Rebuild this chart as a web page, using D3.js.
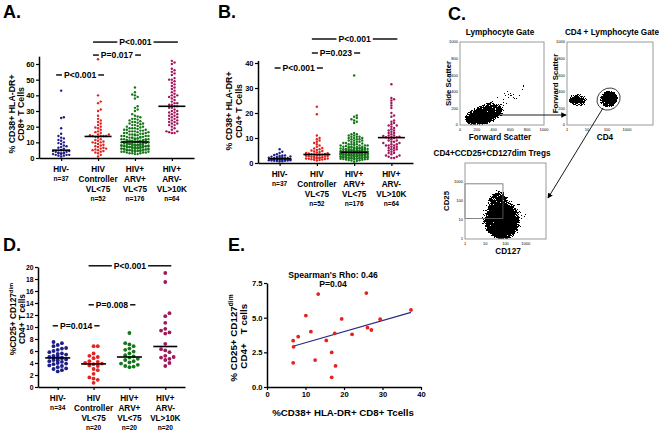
<!DOCTYPE html>
<html><head><meta charset="utf-8">
<script src="https://cdn.jsdelivr.net/npm/d3@7/dist/d3.min.js"></script>
<style>
body{margin:0;background:#fff}
svg text{font-family:"Liberation Sans",Arial,Helvetica,sans-serif;font-weight:bold;fill:#000}
</style></head><body>
<svg id="chart" width="662" height="431" xmlns="http://www.w3.org/2000/svg"></svg>
<script>
// ================= DATA =================
const groupLines = [["HIV-"],["HIV","Controller","VL<75"],["HIV+","ARV+","VL<75"],["HIV+","ARV-","VL>10K"]];
const nLabelsAB = ["n=37","n=52","n=176","n=64"];
const nLabelsD = ["n=34","n=20","n=20","n=20"];
const groupColors = ["#1e1e88","#e2231f","#16761a","#a0175c"];

// Panel A: % CD38+ HLA-DR+ CD8+ T cells
const cd8_hivNeg = [43,26,25.5,19,15.5,14,13,12.5,11.5,11,10,9.5,9,8,7.5,7,6.5,6,5,5,4.5,4.5,4,4,3.5,3.5,3,3,3,2.5,2.5,2,2,2,1.5,1.5,1];
const cd8_controller = [63,40,36,35,31,30,27,25,24,23,22,21,20,19.5,19,18,17,16.5,16,15,15,14.5,14,14,14,14,13.5,13,12,11.5,11,10.5,10,10,9.5,9,8.5,8,7.5,7,6.5,6,6,5.5,5,5,4.5,4,3.5,3,2,1];
const cd8_arvPos = [45,42,40.5,40,39,38,33,32,31,30,27,26,25,25,24,23,23,22,22,21,21,20,20,19.5,19,19,18.5,18,18,17.5,
  17.5,17,17,16.5,16.5,16,16,16,15.5,15.5,15,15,15,14.5,14.5,14,14,14,13.5,13.5,13.5,13,13,13,12.5,12.5,12.5,12,12,12,
  12,11.5,11.5,11.5,11,11,11,11,10.5,10.5,10.5,10.5,10,10,10,10,10,9.5,9.5,9.5,9.5,9.5,9,9,9,9,9,9,8.5,8.5,
  8.5,8.5,8.5,8.5,8,8,8,8,8,8,7.5,7.5,7.5,7.5,7.5,7.5,7,7,7,7,7,7,6.5,6.5,6.5,6.5,6.5,6.5,6,6,
  6,6,6,6,5.5,5.5,5.5,5.5,5.5,5,5,5,5,5,4.5,4.5,4.5,4.5,4,4,28,26.5,24.5,23.5,22.5,21.5,20.5,19,18,17,
  14,13,12,11.5,11,10.5,4,4,3.5,3.5,3.5,3,3,3,2.5,2.5,4.5,5,5.5,6,6.5,7,7.5,8,8.5,9];
const cd8_arvNeg = [62,61,60,57,56,55,54,53,51,50,50,49,48,47,46,45,44,43,42,41,40,40,39,39,38,37,36,35,35,34,
  34,33,33,32,32,31,30,30,29,29,28,28,27,27,26,26,25,25,24,24,23,23,22,22,21,21,20,19,18,17,17,16,16,16.5];

// Panel B: % CD38+ HLA-DR+ CD4+ T cells
const cd4_hivNeg = [5.5,4.5,4,3.5,3.2,3,3,2.8,2.6,2.5,2.4,2.3,2.2,2.1,2,2,1.9,1.8,1.7,1.6,1.5,1.5,1.4,1.4,1.3,1.3,1.2,1.2,1.1,1.1,1,1,0.9,0.9,0.8,0.7,0.6];
const cd4_controller = [22.5,19.5,11,10,9.5,9,8.5,8,7.5,7,6.5,6,5.8,5.5,5.2,5,4.8,4.6,4.4,4.2,4,3.9,3.8,3.6,3.5,3.4,3.4,3.3,3.2,3.1,
  3,2.9,2.8,2.7,2.6,2.5,2.4,2.3,2.2,2.1,2,2,1.9,1.8,1.8,1.7,1.6,1.5,1.4,1.3,1.2,1];
const cd4_arvPos = [35,19,18.5,18,17.5,17,16.5,16,12,11.5,11.5,11,11,10.5,10.5,10.5,10,10,10,9.5,9.5,9.5,9,9,9,8.5,8.5,8.5,8,8,
  8,7.5,7.5,7.5,7,7,7,7,6.5,6.5,6.5,6.5,6.2,6.2,6,6,6,6,5.8,5.8,5.6,5.6,5.5,5.5,5.4,5.4,5.2,5.2,5.2,5,
  5,5,5,4.8,4.8,4.8,4.7,4.7,4.6,4.6,4.5,4.5,4.5,4.4,4.4,4.4,4.3,4.3,4.3,4.2,4.2,4.2,4.2,4.1,4.1,4.1,4,4,4,4,
  3.9,3.9,3.9,3.8,3.8,3.8,3.7,3.7,3.7,3.6,3.6,3.6,3.5,3.5,3.5,3.4,3.4,3.4,3.3,3.3,3.3,3.2,3.2,3.2,3.1,3.1,3,3,3,2.9,
  2.9,2.8,2.8,2.8,2.7,2.7,2.6,2.6,2.6,2.5,2.5,2.4,2.4,2.4,2.3,2.3,2.2,2.2,2.1,2.1,2,2,2,1.9,1.9,1.8,1.8,1.7,1.7,1.6,
  1.6,1.5,1.5,1.4,1.3,1.2,1.1,1,0.8,0.5,7.8,7.2,6.8,6.4,5.9,5.7,5.3,5.1,4.9,4.6,4.4,4.2,3.9,3.6,3.3,3];
const cd4_arvNeg = [31.5,26,25.5,25,24,23,22,20,19,18.5,17,16.5,16,15.5,15,15,14.5,14,13.5,13,13,12.5,12,12,11.5,11,11,10.8,10.5,10.5,
  10.3,10.3,10,10,9.5,9,9,8.5,8.5,8,8,7.5,7.5,7,7,7,6.5,6.5,6,6,5.5,5.5,5,5,4.5,4,4,3.5,3,3,2.5,2.5,2,2];

// Panel D: %CD25+ CD127dim CD4+ T cells
const treg_hivNeg = [7.5,7.3,7.0,6.8,6.5,6.4,6.2,6.0,5.8,5.6,5.5,5.4,5.2,5.1,5.0,4.9,4.9,4.8,4.7,4.6,4.5,4.4,4.3,4.2,4.0,3.9,3.8,3.6,3.5,3.3,3.1,3.0,2.8,2.6];
const treg_controller = [6.8,6.8,5.6,5.2,5.0,4.8,4.3,4.2,4.0,3.9,3.8,3.6,3.5,3.0,2.8,2.2,1.6,1.4,1.2,0.7];
const treg_arvPos = [9.0,7.3,7.1,6.8,6.4,6.2,5.9,5.6,5.3,5.1,4.9,4.7,4.5,4.3,4.1,3.9,3.7,3.5,3.4,3.3];
const treg_arvNeg = [19.0,17.5,12.3,11.8,10.7,9.7,9.4,9.1,8.9,7.2,6.3,6.1,5.8,5.2,5.0,4.9,4.7,4.5,4.0,3.5];

// Panel E: correlation
const corrCD8 = [13.3,25.8,10.1,19.4,11.4,8.1,6.8,6.9,6.8,12.5,15.4,17.6,22.1,26.1,27.1,29.4,37.4,16.8,17.8,16.8];
const corrTreg = [6.70,6.77,5.15,4.91,3.99,3.63,3.34,2.90,1.74,1.94,3.36,3.87,3.80,4.28,4.11,4.89,5.56,2.49,1.52,0.70];

// Significance annotations (group index from/to, value level, label)
const sigA = [{from:1,to:3,at:74,label:"P<0.001"},{from:1,to:2,at:65.7,label:"P=0.017"},{from:0,to:1,at:53,label:"P<0.001"}];
const sigB = [{from:1,to:3,at:49.6,label:"P<0.001"},{from:1,to:2,at:44,label:"P=0.023"},{from:0,to:1,at:38,label:"P<0.001"}];
const sigD = [{from:1,to:3,at:20.2,label:"P<0.001"},{from:1,to:2,at:13.7,label:"P=0.008"},{from:0,to:1,at:10.2,label:"P=0.014"}];

// Axis ticks
const ticksA = [0,10,20,30,40,50,60];
const ticksB = [0,10,20,30,40];
const ticksD = [0,2,4,6,8,10,12,14,16,18,20];
const ticksEx = [0,10,20,30,40];
const ticksEy = [0,2.5,5,7.5];
const flowLinTicks = [0,200,400,600,800,1000];
const flowLogTicks = [1,10,100,1000];

// Flow cytometry populations (data units: x range, y range, tilt deg, density level)
const lymphPops = [
  {x:[150,900],y:[170,420],tilt:-33,level:"haze"},
  {x:[40,520],y:[0,240],tilt:-12,level:"mid"},
  {x:[80,400],y:[25,160],tilt:-10,level:"core"}];
const cd4Pops = [
  {x:[1.02,12],y:[215,385],tilt:0,level:"mid"},
  {x:[1.5,7],y:[250,350],tilt:0,level:"mid"},
  {x:[40,380],y:[205,415],tilt:-30,level:"mid"},
  {x:[55,280],y:[240,390],tilt:-30,level:"core"}];
const tregPops = [
  {x:[4,1500],y:[1,300],tilt:0,level:"haze"},
  {x:[11,400],y:[1.0,75],tilt:0,level:"dense"},
  {x:[16,110],y:[12,400],tilt:0,level:"mid"},
  {x:[18,300],y:[1.05,45],tilt:0,level:"core"}];

// ================= DRAW =================
const svg = d3.select("#chart");
const defs = svg.append("defs");
defs.append("marker").attr("id","arrow").attr("viewBox","0 0 8 8").attr("refX",7).attr("refY",4)
  .attr("markerWidth",6).attr("markerHeight",6).attr("orient","auto")
  .append("path").attr("d","M0,0 L8,4 L0,8 z").attr("fill","#000");
// grain filter: blurred density * noise -> thresholded speckles
const grain = defs.append("filter").attr("id","grain").attr("filterUnits","userSpaceOnUse")
  .attr("x",0).attr("y",0).attr("width",662).attr("height",431).attr("color-interpolation-filters","sRGB");
grain.append("feGaussianBlur").attr("in","SourceGraphic").attr("stdDeviation",2).attr("result","b");
grain.append("feTurbulence").attr("type","fractalNoise").attr("baseFrequency",0.9).attr("numOctaves",2).attr("seed",7).attr("result","n");
grain.append("feColorMatrix").attr("in","n").attr("type","matrix")
  .attr("values","0 0 0 0 0  0 0 0 0 0  0 0 0 0 0  1 0 0 0 0").attr("result","na");
grain.append("feComposite").attr("in","b").attr("in2","na").attr("operator","arithmetic")
  .attr("k1",2.6).attr("k2",0).attr("k3",0).attr("k4",0).attr("result","m");
grain.append("feComponentTransfer").attr("in","m").append("feFuncA").attr("type","discrete").attr("tableValues","0 1");

function styleAxis(g, fs){
  g.select(".domain").attr("stroke","#000").attr("stroke-width",1.5);
  g.selectAll(".tick line").attr("stroke","#000").attr("stroke-width",1.2);
  g.selectAll(".tick text").attr("font-size",fs||7.5).attr("font-family",null).style("font-weight","bold").attr("fill","#000");
}

// capped beeswarm: rows within dyMin share a row; width limited to maxHalf (overlap beyond)
function beeswarm(vals, y, cx, step, dyMin, maxHalf){
  const pts = vals.map(v=>({v, y:y(v)})).sort((a,b)=>a.v-b.v);
  const cands = [0];
  for(let k=1;k*step<=maxHalf+0.01;k++){cands.push(k*step);cands.push(-k*step);}
  const placed = [];
  for(const p of pts){
    let best=null,bestC=Infinity;
    for(const off of cands){
      const c = placed.filter(q=>Math.abs(q.off-off)<step*0.9 && Math.abs(q.y-p.y)<dyMin).length;
      if(c<bestC){bestC=c;best=off;if(c===0)break;}
    }
    p.off=best;placed.push(p);
  }
  return pts.map(p=>({x:cx+p.off,y:p.y}));
}

function rotTitle(g, cx, cy, fs, parts){
  const t = g.append("text").attr("transform",`translate(${cx+fs*0.36},${cy}) rotate(-90)`).attr("text-anchor","middle").attr("font-size",fs);
  parts.forEach(pt=>{
    const s = t.append("tspan").text(pt.t);
    if(pt.sup) s.attr("font-size",fs*0.68).attr("dy",-fs*0.4);
  });
  return t;
}

function dotPanel(p){
  const g = svg.append("g");
  const y = d3.scaleLinear().domain(p.yDomain).range([p.yBottom,p.yTop]);
  const x = d3.scalePoint().domain(d3.range(4)).range([p.xLeft,p.xRight]).padding(p.pad);
  const ya = g.append("g").attr("transform",`translate(${p.xLeft},0)`)
    .call(d3.axisLeft(y).tickValues(p.yTicks).tickSize(3).tickSizeOuter(0).tickPadding(1.5).tickFormat(d3.format("d")));
  styleAxis(ya,p.tickFs);
  const xa = g.append("g").attr("transform",`translate(0,${p.yBottom})`)
    .call(d3.axisBottom(x).tickSize(3).tickSizeOuter(0).tickFormat(""));
  styleAxis(xa);
  p.groups.forEach((vals,i)=>{
    const pts = beeswarm(vals,y,x(i),p.step,p.dyMin,p.maxHalf[i]);
    g.append("g").selectAll("circle").data(pts).join("circle")
      .attr("cx",d=>d.x).attr("cy",d=>d.y).attr("r",p.r).attr("fill",groupColors[i]);
    const med = d3.median(vals);
    g.append("line").attr("x1",x(i)-p.medHalf[i]).attr("x2",x(i)+p.medHalf[i])
      .attr("y1",y(med)).attr("y2",y(med)).attr("stroke","#000").attr("stroke-width",1.6);
    const lines = groupLines[i];
    lines.forEach((t,j)=>g.append("text").attr("x",x(i)).attr("y",p.yBottom+13.5+j*10.2)
      .attr("text-anchor","middle").attr("font-size",8.2).text(t));
    g.append("text").attr("x",x(i)).attr("y",p.yBottom+13.5+(lines.length-1)*10.2+9.5)
      .attr("text-anchor","middle").attr("font-size",6.6).text(p.nLabels[i]);
  });
  p.sig.forEach(s=>{
    const xa_ = x(s.from)-5, xb_ = x(s.to)+6, yy = y(s.at), mid=(xa_+xb_)/2;
    const t = g.append("text").attr("x",mid).attr("y",yy+3).attr("text-anchor","middle").attr("font-size",8.6).text(s.label);
    const w = t.node().getComputedTextLength();
    g.append("line").attr("x1",xa_).attr("x2",mid-w/2-2).attr("y1",yy).attr("y2",yy).attr("stroke","#000").attr("stroke-width",1.4);
    g.append("line").attr("x1",mid+w/2+2).attr("x2",xb_).attr("y1",yy).attr("y2",yy).attr("stroke","#000").attr("stroke-width",1.4);
  });
  p.titles.forEach(tt=>rotTitle(g,tt.x,p.titleY,p.titleFs,tt.parts));
  g.append("text").attr("x",p.letter[1]).attr("y",p.letter[2]).attr("font-size",18).text(p.letter[0]);
}

dotPanel({xLeft:39,xRight:194,pad:0.6,yBottom:158,yTop:158-65*1.5667,yDomain:[0,65],yTicks:ticksA,tickFs:7.5,
  groups:[cd8_hivNeg,cd8_controller,cd8_arvPos,cd8_arvNeg],nLabels:nLabelsAB,r:1.2,step:2.7,dyMin:2.5,
  maxHalf:[8.5,13,13.5,13],medHalf:[9,13.5,13.5,13.5],sig:sigA,titleY:114,titleFs:8.8,
  titles:[{x:12,parts:[{t:"% CD38+ HLA-DR+"}]},{x:21,parts:[{t:"CD8+ T Cells"}]}],letter:["A.",3,18]});

dotPanel({xLeft:258,xRight:413,pad:0.58,yBottom:163,yTop:163-41*2.5,yDomain:[0,41],yTicks:ticksB,tickFs:7.5,
  groups:[cd4_hivNeg,cd4_controller,cd4_arvPos,cd4_arvNeg],nLabels:nLabelsAB,r:1.2,step:2.7,dyMin:2.5,
  maxHalf:[11,13,13.5,13],medHalf:[11.5,13.5,13.5,13.5],sig:sigB,titleY:111,titleFs:8.8,
  titles:[{x:228.5,parts:[{t:"% CD38+ HLA-DR+"}]},{x:238.5,parts:[{t:"CD4+ T Cells"}]}],letter:["B.",218,18]});

dotPanel({xLeft:38,xRight:185,pad:0.55,yBottom:387,yTop:267,yDomain:[0,20],yTicks:ticksD,tickFs:6.8,
  groups:[treg_hivNeg,treg_controller,treg_arvPos,treg_arvNeg],nLabels:nLabelsD,r:1.9,step:4.2,dyMin:3.8,
  maxHalf:[11,11,11,11],medHalf:[12.5,12.5,12.5,12],sig:sigD,titleY:319,titleFs:8.4,
  titles:[{x:13,parts:[{t:"%CD25+ CD127"},{t:"dim",sup:true}]},{x:22,parts:[{t:"CD4+ T cells"}]}],letter:["D.",3,251]});

// ---------- Panel E ----------
(function(){
  const g = svg.append("g");
  const x = d3.scaleLinear().domain([0,40]).range([267,421]);
  const y = d3.scaleLinear().domain([0,7.5]).range([387,283]);
  const xa = g.append("g").attr("transform","translate(0,387)").call(d3.axisBottom(x).tickValues(ticksEx).tickSize(3).tickSizeOuter(0).tickPadding(1.5));
  styleAxis(xa,7.6);
  const ya = g.append("g").attr("transform","translate(267,0)").call(d3.axisLeft(y).tickValues(ticksEy).tickSize(3).tickSizeOuter(0).tickPadding(1.5).tickFormat(d3.format(".1f")));
  styleAxis(ya,7.6);
  const mx=d3.mean(corrCD8), my=d3.mean(corrTreg);
  const slope=d3.sum(corrCD8,(v,i)=>(v-mx)*(corrTreg[i]-my))/d3.sum(corrCD8,v=>(v-mx)*(v-mx));
  const [lo,hi]=d3.extent(corrCD8);
  g.append("line").attr("x1",x(lo)).attr("y1",y(my+slope*(lo-mx))).attr("x2",x(hi)).attr("y2",y(my+slope*(hi-mx)))
    .attr("stroke","#2a2a8a").attr("stroke-width",1.2);
  g.selectAll("circle").data(corrCD8).join("circle").attr("cx",d=>x(d)).attr("cy",(d,i)=>y(corrTreg[i])).attr("r",1.9).attr("fill","#e2231f");
  g.append("text").attr("x",333).attr("y",278).attr("text-anchor","middle").attr("font-size",8.6).text("Spearman's Rho: 0.46");
  g.append("text").attr("x",333).attr("y",287).attr("text-anchor","middle").attr("font-size",8.6).text("P=0.04");
  g.append("text").attr("x",343).attr("y",416).attr("text-anchor","middle").attr("font-size",9.7).text("%CD38+ HLA-DR+ CD8+ Tcells");
  rotTitle(g,233,338,9.8,[{t:"% CD25+ CD127"},{t:"dim",sup:true}]);
  rotTitle(g,243.5,356,9.8,[{t:"CD4+"}]);
  rotTitle(g,243.5,319,9.8,[{t:"T cells"}]);
  g.append("text").attr("x",228).attr("y",251).attr("font-size",18).text("E.");
})();

// ---------- Panel C: flow cytometry ----------
const popOpacity = {haze:0.28, mid:0.45, dense:0.72, core:1};
function flowPlot(c){
  const g = svg.append("g");
  const x = (c.xLog?d3.scaleLog():d3.scaleLinear()).domain(c.xDomain).range([c.x0,c.x1]);
  const y = (c.yLog?d3.scaleLog():d3.scaleLinear()).domain(c.yDomain).range([c.y1,c.y0]);
  const cid = "clip"+c.id;
  defs.append("clipPath").attr("id",cid).append("rect").attr("x",c.x0).attr("y",c.y0).attr("width",c.x1-c.x0).attr("height",c.y1-c.y0);
  const pg = g.append("g").attr("clip-path",`url(#${cid})`).append("g").attr("filter","url(#grain)");
  c.pops.forEach(p=>{
    const xa=x(p.x[0]),xb=x(p.x[1]),ya=y(p.y[0]),yb=y(p.y[1]);
    const cx=(xa+xb)/2, cy=(ya+yb)/2;
    pg.append("ellipse").attr("cx",cx).attr("cy",cy).attr("rx",Math.abs(xb-xa)/2).attr("ry",Math.abs(yb-ya)/2)
      .attr("transform",`rotate(${p.tilt},${cx},${cy})`).attr("fill","#000").attr("fill-opacity",popOpacity[p.level]);
  });
  if(c.gateEllipse){
    const p=c.gateEllipse, xa=x(p.x[0]),xb=x(p.x[1]),ya=y(p.y[0]),yb=y(p.y[1]);
    const cx=(xa+xb)/2, cy=(ya+yb)/2;
    g.append("ellipse").attr("cx",cx).attr("cy",cy).attr("rx",Math.abs(xb-xa)/2).attr("ry",Math.abs(yb-ya)/2)
      .attr("transform",`rotate(${p.tilt},${cx},${cy})`).attr("fill","none").attr("stroke","#222").attr("stroke-width",0.8);
  }
  if(c.gateRect){
    const p=c.gateRect;
    g.append("rect").attr("x",x(p.x[0])).attr("y",y(p.y[1])).attr("width",x(p.x[1])-x(p.x[0])).attr("height",y(p.y[0])-y(p.y[1]))
      .attr("fill","none").attr("stroke","#666").attr("stroke-width",0.8);
  }
  g.append("rect").attr("x",c.x0).attr("y",c.y0).attr("width",c.x1-c.x0).attr("height",c.y1-c.y0)
    .attr("fill","none").attr("stroke","#999").attr("stroke-width",1);
  c.xTicks.forEach(t=>g.append("text").attr("x",x(t)).attr("y",c.y1+6).attr("text-anchor","middle")
    .attr("font-size",4).style("font-weight","normal").attr("fill","#666").text(t));
  c.yTicks.forEach(t=>g.append("text").attr("x",c.x0-2).attr("y",y(t)+1.4).attr("text-anchor","end")
    .attr("font-size",4).style("font-weight","normal").attr("fill","#666").text(t));
  g.append("text").attr("x",c.titleX).attr("y",c.y0-7).attr("text-anchor","middle").attr("font-size",8.2).text(c.title);
  g.append("text").attr("x",c.xLabelX).attr("y",c.y1+15).attr("text-anchor","middle").attr("font-size",8.2).text(c.xLabel);
  rotTitle(g,c.yLabelX,(c.y0+c.y1)/2,7.8,[{t:c.yLabel}]);
}

flowPlot({id:1,x0:460,x1:544,y0:42,y1:125,xDomain:[0,1000],yDomain:[0,1000],xTicks:flowLinTicks,yTicks:flowLinTicks,
  pops:lymphPops,title:"Lymphocyte Gate",titleX:500,xLabel:"Forward Scatter",xLabelX:500,yLabel:"Side Scatter",yLabelX:448});
flowPlot({id:2,x0:567,x1:653,y0:42,y1:125,xLog:true,xDomain:[1,20000],yDomain:[0,1000],xTicks:flowLogTicks,yTicks:flowLinTicks,
  pops:cd4Pops,gateEllipse:{x:[30,480],y:[185,440],tilt:-35},title:"CD4 + Lymphocyte Gate",titleX:612,xLabel:"CD4",xLabelX:605,yLabel:"Forward Scatter",yLabelX:555});
flowPlot({id:3,x0:465,x1:546,y0:163,y1:239,xLog:true,yLog:true,xDomain:[1,10000],yDomain:[1,10000],xTicks:flowLogTicks,yTicks:flowLogTicks,
  pops:tregPops,gateRect:{x:[1,75],y:[12,800]},title:"CD4+CCD25+CD127dim Tregs",titleX:492,xLabel:"CD127",xLabelX:508,yLabel:"CD25",yLabelX:446});

svg.append("line").attr("x1",495).attr("y1",115).attr("x2",566).attr("y2",115).attr("stroke","#000").attr("stroke-width",0.9).attr("marker-end","url(#arrow)");
svg.append("line").attr("x1",603).attr("y1",108).attr("x2",548).attr("y2",198).attr("stroke","#000").attr("stroke-width",0.9).attr("marker-end","url(#arrow)");
svg.append("text").attr("x",448).attr("y",20).attr("font-size",18).text("C.");
</script></body></html>
